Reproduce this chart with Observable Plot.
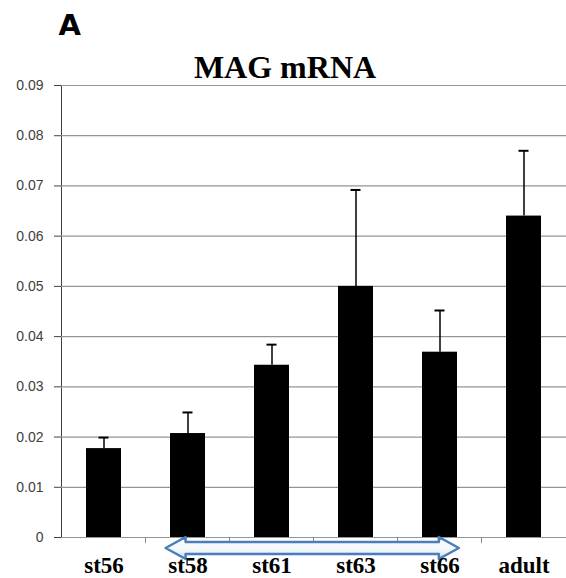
<!DOCTYPE html>
<html>
<head>
<meta charset="utf-8">
<script src="https://cdn.jsdelivr.net/npm/d3@7"></script>
<script src="https://cdn.jsdelivr.net/npm/@observablehq/plot@0.6"></script>
<style>
  html, body { margin: 0; padding: 0; background: #fff; }
</style>
</head>
<body>
<div id="chart"></div>
<script>
// ---- Data ----
const panelLabel = "A";
const title = "MAG mRNA";
const categories = ["st56", "st58", "st61", "st63", "st66", "adult"];
const values = [0.0177, 0.0207, 0.0343, 0.0500, 0.0369, 0.0640];
const errorTops = [0.0199, 0.0249, 0.0384, 0.0692, 0.0452, 0.0770];
const yTicks = [0, 0.01, 0.02, 0.03, 0.04, 0.05, 0.06, 0.07, 0.08, 0.09];
const arrowFrom = "st58";
const arrowTo = "st66";

const data = categories.map((c, i) => ({cat: c, value: values[i], err: errorTops[i]}));

// custom mark: category boundary ticks + double-headed arrow under the axis
function annotations(index, scales, values, dims) {
  const x = scales.x, y = scales.y;
  const n = categories.length;
  const step = (dims.width - dims.marginLeft - dims.marginRight) / n;
  const bw = typeof x.bandwidth === "function" ? x.bandwidth() : step * 0.415;
  const center = c => x(c) + bw / 2;
  const y0 = y(0);
  const g = d3.create("svg:g");
  // boundary ticks
  for (let i = 1; i < n; i++) {
    const xb = (center(categories[i - 1]) + center(categories[i])) / 2;
    g.append("line").attr("x1", xb).attr("x2", xb).attr("y1", y0).attr("y2", y0 + 6)
      .attr("stroke", "#8a8a8a").attr("stroke-width", 1);
  }
  // arrow
  const L = center(arrowFrom) - 0.26 * step;
  const R = center(arrowTo) + 0.23 * step;
  const cy = y0 + 11, hl = 20, hh = 11, bh = 6;
  const defs = g.append("defs");
  const grad = defs.append("linearGradient").attr("id", "arrowGrad")
    .attr("x1", 0).attr("y1", 0).attr("x2", 0).attr("y2", 1);
  grad.append("stop").attr("offset", "0%").attr("stop-color", "#ffffff");
  grad.append("stop").attr("offset", "60%").attr("stop-color", "#f2f6fb");
  grad.append("stop").attr("offset", "100%").attr("stop-color", "#c6d9f1");
  const p = [
    [L, cy], [L + hl, cy - hh], [L + hl, cy - bh], [R - hl, cy - bh], [R - hl, cy - hh],
    [R, cy], [R - hl, cy + hh], [R - hl, cy + bh], [L + hl, cy + bh], [L + hl, cy + hh]
  ];
  g.append("path").attr("d", "M" + p.map(d => d.join(",")).join("L") + "Z")
    .attr("fill", "url(#arrowGrad)").attr("stroke", "#4a7ebb").attr("stroke-width", 2.5)
    .attr("stroke-linejoin", "round");
  return g.node();
}

const chart = Plot.plot({
  width: 566,
  height: 578,
  marginTop: 85,
  marginBottom: 41,
  marginLeft: 61,
  marginRight: 0,
  style: {fontFamily: "Liberation Sans", fontSize: "14px", color: "#404040", background: "#fff"},
  x: {domain: categories, paddingInner: 0.585, paddingOuter: 0.2925, axis: null},
  y: {
    domain: [0, 0.09], ticks: yTicks, tickSize: 7, tickPadding: 11, line: true,
    tickFormat: d => d === 0 ? "0" : d.toFixed(2), label: null
  },
  marks: [
    Plot.ruleY(yTicks, {stroke: "#959595", strokeWidth: 1.2}),
    Plot.barY(data, {x: "cat", y: "value", fill: "black"}),
    Plot.ruleX(data, {x: "cat", y1: "value", y2: "err", stroke: "black", strokeWidth: 1.5}),
    Plot.tickY(data, {x: "cat", y: "err", stroke: "black", strokeWidth: 2, insetLeft: 12.5, insetRight: 12.5}),
    annotations,
    Plot.text(categories, {
      x: d => d, frameAnchor: "bottom", lineAnchor: "bottom", dy: 35,
      fontFamily: "Liberation Serif", fontWeight: "bold", fontSize: 23, fill: "black"
    }),
    Plot.text([title], {
      frameAnchor: "top", lineAnchor: "bottom", dx: -29, dy: -8,
      fontFamily: "Liberation Serif", fontWeight: "bold", fontSize: 32, fill: "black"
    }),
    Plot.text([panelLabel], {
      frameAnchor: "top-left", textAnchor: "start", lineAnchor: "bottom", dx: -3, dy: -51,
      fontFamily: "DejaVu Sans", fontWeight: "bold", fontSize: 29, fill: "black"
    })
  ]
});
document.getElementById("chart").appendChild(chart);
</script>
</body>
</html>
